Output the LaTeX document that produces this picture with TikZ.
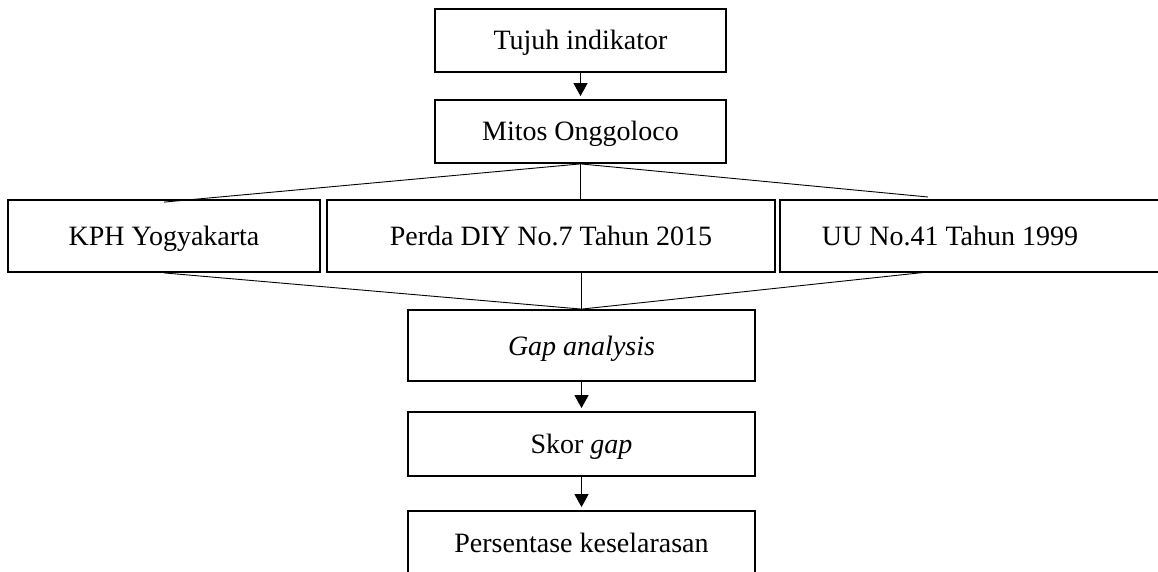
\documentclass[tikz,border=0pt]{standalone}
\usepackage{fontspec}
\setmainfont{Liberation Serif}
\usetikzlibrary{arrows.meta}

\begin{document}
\begin{tikzpicture}[x=1pt,y=-1pt,
  box/.style={draw, line width=1.8pt, inner sep=0pt, text height=25pt, text depth=6pt, font=\fontsize{28}{33}\selectfont},
  link/.style={line width=0.9pt},
  flow/.style={line width=0.9pt, -{Triangle[width=14pt,length=13pt]}, shorten >=3pt}]

\clip (0,0) rectangle (1158,572);

\node[box, minimum width=291pt, minimum height=63pt] (tujuh) at (580.5,40.5) {Tujuh indikator};
\node[box, minimum width=291pt, minimum height=63pt] (mitos) at (580.5,131.5) {Mitos Onggoloco};

% three sources
\node[box, minimum width=312pt, minimum height=72pt] (kph) at (164,236) {KPH Yogyakarta};
\node[box, minimum width=448pt, minimum height=72pt] (perda) at (551,236) {Perda DIY No.7 Tahun 2015};
\node[box, minimum height=72pt, anchor=west] (uu) at (779,236) {\makebox[386pt][l]{\hspace{42pt}UU No.41 Tahun 1999}};

\node[box, minimum width=347pt, minimum height=71pt] (gap) at (581.5,345.5) {\itshape Gap analysis};
\node[box, minimum width=347pt, minimum height=64pt] (skor) at (581.5,444) {Skor \textit{gap}};
\node[box, minimum width=347pt, minimum height=64pt] (persen) at (581.5,543) {Persentase keselarasan};

\coordinate (uuin) at (928,197);
\coordinate (uuout) at (928,272);

\draw[flow] (tujuh) -- (mitos);

\draw[link] (mitos.south) -- ([yshift=-3pt]kph.north);
\draw[link] (mitos.south) -- (mitos.south |- perda.north);
\draw[link] (mitos.south) -- (uuin);

\draw[link] (kph.south) -- (gap.north);
\draw[link] (perda.south -| gap.north) -- (gap.north);
\draw[link] (uuout) -- (gap.north);

\draw[flow] (gap) -- (skor);
\draw[flow] (skor) -- (persen);

\end{tikzpicture}
\end{document}
